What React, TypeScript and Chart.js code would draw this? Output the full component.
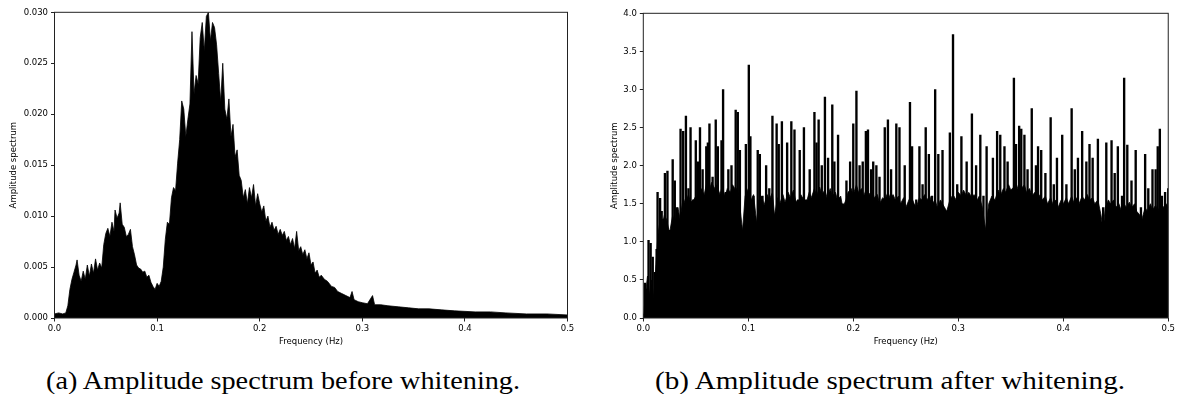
import React, { useEffect, useRef } from "react";
import { Chart, registerables } from "chart.js";

Chart.register(...registerables);

// ---------- data ----------
const xTicks = [0, 0.1, 0.2, 0.3, 0.4, 0.5];
const yTicksA = [0, 0.005, 0.01, 0.015, 0.02, 0.025, 0.03];
const yTicksB = [0, 0.5, 1, 1.5, 2, 2.5, 3, 3.5, 4];

const freqA = [
  0.0, 0.004, 0.008, 0.011, 0.013, 0.015, 0.017, 0.019, 0.021, 0.022, 0.024, 0.026, 0.028, 0.03,
  0.032, 0.034, 0.036, 0.038, 0.04, 0.042, 0.044, 0.046, 0.048, 0.05, 0.052, 0.054, 0.056, 0.058,
  0.059, 0.061, 0.063, 0.064, 0.066, 0.068, 0.07, 0.072, 0.074, 0.076, 0.078, 0.08, 0.082, 0.084,
  0.086, 0.088, 0.09, 0.092, 0.094, 0.096, 0.098, 0.1, 0.102, 0.104, 0.106, 0.108, 0.11, 0.112,
  0.114, 0.116, 0.118, 0.12, 0.122, 0.124, 0.126, 0.128, 0.13, 0.132, 0.134, 0.136, 0.138, 0.14,
  0.142, 0.144, 0.146, 0.148, 0.15, 0.152, 0.154, 0.156, 0.158, 0.16, 0.162, 0.164, 0.166, 0.168,
  0.17, 0.172, 0.174, 0.176, 0.178, 0.18, 0.182, 0.184, 0.186, 0.188, 0.19, 0.192, 0.194, 0.196,
  0.198, 0.2, 0.202, 0.204, 0.206, 0.208, 0.21, 0.212, 0.214, 0.216, 0.218, 0.22, 0.222, 0.224,
  0.226, 0.228, 0.23, 0.232, 0.234, 0.236, 0.238, 0.24, 0.242, 0.244, 0.246, 0.248, 0.25, 0.252,
  0.254, 0.256, 0.258, 0.26, 0.263, 0.266, 0.27, 0.273, 0.276, 0.28, 0.284, 0.288, 0.29, 0.292,
  0.296, 0.3, 0.305, 0.31, 0.312, 0.318, 0.325, 0.335, 0.345, 0.355, 0.365, 0.377, 0.39, 0.41,
  0.425, 0.44, 0.46, 0.48, 0.5,
];
const ampA = [
  0.0004, 0.0005, 0.0004, 0.0005, 0.0012, 0.0028, 0.0038, 0.0045, 0.0052, 0.0057, 0.0042, 0.0036,
  0.0046, 0.0038, 0.0052, 0.0041, 0.0053, 0.0044, 0.0058, 0.0047, 0.0054, 0.0049, 0.0072, 0.0083,
  0.0088, 0.008, 0.0094, 0.0085, 0.0106, 0.0098, 0.0103, 0.0113, 0.0092, 0.0089, 0.008, 0.0082,
  0.0087, 0.007, 0.0062, 0.0052, 0.0049, 0.0048, 0.0045, 0.0046, 0.004, 0.0042, 0.0035, 0.0031,
  0.0028, 0.0034, 0.0031, 0.0036, 0.005, 0.0077, 0.0094, 0.0092, 0.0118, 0.0128, 0.0125, 0.0152,
  0.0175, 0.0213, 0.0205, 0.0178, 0.0195, 0.021, 0.0281, 0.022, 0.0238, 0.023, 0.0275, 0.029,
  0.0262, 0.0296, 0.03, 0.0272, 0.029, 0.0285, 0.0268, 0.024, 0.0212, 0.025, 0.0205, 0.0195,
  0.0215, 0.0178, 0.019, 0.0158, 0.0165, 0.014, 0.0135, 0.0118, 0.0126, 0.0112, 0.0128, 0.0118,
  0.0131, 0.011, 0.0122, 0.0112, 0.0104, 0.011, 0.0095, 0.01, 0.0089, 0.0094, 0.0086, 0.009,
  0.0082, 0.0087, 0.0081, 0.0085, 0.0076, 0.008, 0.0072, 0.0078, 0.0068, 0.0085, 0.0066, 0.007,
  0.0062, 0.0067, 0.0058, 0.0064, 0.0052, 0.0055, 0.0044, 0.0047, 0.004, 0.0042, 0.0038, 0.0036,
  0.0031, 0.003, 0.0026, 0.0024, 0.0022, 0.002, 0.0026, 0.0018, 0.0016, 0.0015, 0.0014, 0.0022,
  0.0013, 0.0013, 0.0012, 0.0011, 0.001, 0.0009, 0.0009, 0.0008, 0.0007, 0.0006, 0.0006, 0.0005,
  0.0004, 0.0004, 0.0003,
];

// whitened spectrum: individual peaks
const freqB = [
  0.0, 0.0016, 0.0035, 0.005, 0.006, 0.007, 0.009, 0.0105, 0.011, 0.0127, 0.0136, 0.016, 0.0175,
  0.019, 0.0206, 0.023, 0.025, 0.028, 0.03, 0.032, 0.034, 0.0355, 0.038, 0.0406, 0.043, 0.045,
  0.0476, 0.05, 0.052, 0.054, 0.0565, 0.06, 0.0615, 0.063, 0.066, 0.069, 0.071, 0.0745, 0.076,
  0.0787, 0.081, 0.084, 0.088, 0.09, 0.092, 0.0945, 0.0977, 0.1005, 0.102, 0.105, 0.108, 0.109,
  0.111, 0.1135, 0.117, 0.12, 0.123, 0.125, 0.127, 0.129, 0.132, 0.135, 0.137, 0.141, 0.144,
  0.1475, 0.149, 0.153, 0.155, 0.1585, 0.163, 0.165, 0.167, 0.17, 0.173, 0.176, 0.18, 0.182,
  0.1855, 0.19, 0.1935, 0.197, 0.2, 0.203, 0.206, 0.209, 0.212, 0.214, 0.217, 0.219, 0.222, 0.225,
  0.23, 0.233, 0.236, 0.241, 0.244, 0.249, 0.254, 0.256, 0.26, 0.263, 0.266, 0.269, 0.272, 0.275,
  0.278, 0.281, 0.285, 0.289, 0.292, 0.295, 0.299, 0.303, 0.308, 0.313, 0.317, 0.321, 0.324,
  0.327, 0.333, 0.337, 0.34, 0.344, 0.347, 0.353, 0.355, 0.358, 0.36, 0.363, 0.366, 0.37, 0.374,
  0.376, 0.379, 0.383, 0.388, 0.391, 0.394, 0.399, 0.403, 0.408, 0.411, 0.414, 0.418, 0.422,
  0.425, 0.428, 0.433, 0.438, 0.441, 0.446, 0.449, 0.452, 0.456, 0.458, 0.461, 0.465, 0.469,
  0.474, 0.478, 0.481, 0.485, 0.488, 0.49, 0.492, 0.494, 0.497, 0.5,
];
const ampB = [
  0.05, 0.46, 0.25, 1.02, 0.3, 0.98, 0.8, 0.2, 0.6, 0.9, 1.65, 1.57, 1.4, 1.3, 1.9, 1.93, 1.15,
  2.08, 1.8, 1.45, 1.2, 2.48, 2.45, 2.65, 1.7, 2.5, 1.55, 2.33, 2.05, 2.5, 1.95, 2.25, 2.3, 2.55,
  1.85, 2.6, 2.25, 2.33, 3.0, 1.65, 1.95, 2.0, 2.73, 2.7, 2.2, 1.15, 2.28, 3.32, 2.38, 1.6, 1.25,
  2.2, 2.15, 1.6, 2.0, 1.7, 2.65, 1.35, 2.55, 2.28, 2.58, 1.45, 2.3, 2.58, 2.47, 1.55, 2.2, 2.5,
  1.55, 1.95, 2.7, 2.3, 2.6, 2.0, 2.9, 2.1, 2.8, 2.05, 2.4, 1.5, 1.8, 2.05, 2.55, 2.98, 2.0, 2.05,
  2.45, 2.47, 1.95, 2.05, 2.0, 1.85, 2.5, 2.6, 1.95, 2.55, 2.5, 2.0, 2.83, 2.25, 1.55, 2.25, 1.75,
  2.5, 2.15, 1.6, 3.0, 2.15, 2.2, 1.4, 2.43, 3.72, 1.75, 2.38, 2.05, 2.68, 2.0, 2.4, 1.6, 2.25,
  2.1, 2.45, 2.4, 2.25, 2.05, 3.15, 2.28, 2.52, 2.48, 2.4, 1.95, 2.75, 2.0, 2.25, 2.2, 1.9, 2.63,
  1.75, 2.1, 2.4, 1.75, 2.75, 1.95, 2.1, 2.45, 2.05, 2.28, 2.1, 2.35, 1.45, 2.3, 2.33, 1.9, 2.25,
  1.6, 3.15, 2.27, 1.8, 2.2, 1.45, 2.15, 1.7, 1.95, 1.95, 2.25, 2.48, 1.6, 1.65, 1.7,
];

// whitened spectrum: top of the solid black body under the peaks
const freqFloorB = [
  0.0, 0.002, 0.004, 0.006, 0.008, 0.01, 0.012, 0.014, 0.016, 0.018, 0.02, 0.022, 0.025, 0.028,
  0.03, 0.033, 0.035, 0.038, 0.04, 0.043, 0.045, 0.048, 0.05, 0.053, 0.055, 0.058, 0.06, 0.063,
  0.065, 0.068, 0.07, 0.073, 0.075, 0.078, 0.08, 0.083, 0.085, 0.088, 0.09, 0.0945, 0.097, 0.1,
  0.103, 0.105, 0.108, 0.11, 0.113, 0.115, 0.118, 0.12, 0.123, 0.125, 0.128, 0.13, 0.133, 0.135,
  0.138, 0.14, 0.143, 0.145, 0.148, 0.15, 0.153, 0.155, 0.158, 0.16, 0.163, 0.165, 0.168, 0.17,
  0.173, 0.175, 0.178, 0.18, 0.183, 0.185, 0.188, 0.19, 0.193, 0.195, 0.198, 0.2, 0.203, 0.205,
  0.208, 0.21, 0.213, 0.215, 0.218, 0.22, 0.223, 0.225, 0.228, 0.23, 0.233, 0.235, 0.238, 0.24,
  0.243, 0.245, 0.248, 0.25, 0.253, 0.255, 0.258, 0.26, 0.263, 0.265, 0.268, 0.27, 0.273, 0.275,
  0.278, 0.28, 0.283, 0.285, 0.289, 0.292, 0.295, 0.298, 0.3, 0.303, 0.305, 0.308, 0.31, 0.313,
  0.315, 0.318, 0.32, 0.323, 0.326, 0.329, 0.332, 0.335, 0.338, 0.34, 0.343, 0.345, 0.348, 0.35,
  0.353, 0.355, 0.358, 0.36, 0.363, 0.365, 0.368, 0.37, 0.373, 0.375, 0.378, 0.38, 0.383, 0.385,
  0.388, 0.39, 0.393, 0.395, 0.398, 0.4, 0.403, 0.405, 0.408, 0.41, 0.413, 0.415, 0.418, 0.42,
  0.423, 0.425, 0.428, 0.43, 0.433, 0.436, 0.438, 0.44, 0.443, 0.445, 0.448, 0.45, 0.453, 0.455,
  0.458, 0.46, 0.463, 0.465, 0.468, 0.47, 0.473, 0.475, 0.478, 0.48, 0.483, 0.485, 0.488, 0.49,
  0.493, 0.495, 0.498, 0.5,
];
const floorB = [
  0.0, 0.3, 0.55, 0.3, 0.5, 0.25, 0.7, 1.1, 1.28, 1.2, 1.35, 1.3, 1.12, 1.35, 1.25, 1.45, 1.3,
  1.58, 1.5, 1.62, 1.52, 1.55, 1.6, 1.5, 1.7, 1.62, 1.75, 1.68, 1.78, 1.7, 1.75, 1.62, 1.72, 1.6,
  1.7, 1.65, 1.75, 1.68, 1.72, 1.15, 1.6, 1.7, 1.55, 1.62, 1.25, 1.55, 1.6, 1.48, 1.62, 1.55,
  1.65, 1.35, 1.58, 1.5, 1.62, 1.52, 1.65, 1.58, 1.68, 1.55, 1.5, 1.62, 1.55, 1.5, 1.65, 1.58,
  1.7, 1.6, 1.72, 1.62, 1.68, 1.58, 1.7, 1.6, 1.65, 1.55, 1.6, 1.45, 1.55, 1.65, 1.7, 1.62, 1.75,
  1.65, 1.7, 1.6, 1.72, 1.62, 1.68, 1.58, 1.62, 1.5, 1.58, 1.55, 1.65, 1.58, 1.62, 1.55, 1.6,
  1.5, 1.58, 1.45, 1.55, 1.6, 1.5, 1.45, 1.58, 1.55, 1.62, 1.55, 1.6, 1.5, 1.55, 1.45, 1.55,
  1.5, 1.4, 1.55, 1.62, 1.55, 1.65, 1.6, 1.68, 1.6, 1.65, 1.58, 1.62, 1.55, 1.6, 1.45, 1.16,
  1.5, 1.6, 1.55, 1.68, 1.6, 1.7, 1.65, 1.75, 1.68, 1.72, 1.65, 1.78, 1.7, 1.75, 1.65, 1.7, 1.6,
  1.65, 1.55, 1.62, 1.55, 1.6, 1.5, 1.58, 1.5, 1.55, 1.45, 1.55, 1.5, 1.58, 1.5, 1.6, 1.52,
  1.58, 1.5, 1.6, 1.55, 1.62, 1.55, 1.58, 1.5, 1.55, 1.35, 1.15, 1.45, 1.55, 1.5, 1.55, 1.45,
  1.5, 1.42, 1.5, 1.45, 1.52, 1.45, 1.5, 1.4, 1.35, 1.3, 1.45, 1.4, 1.5, 1.42, 1.48, 1.4, 1.5,
  1.45, 1.5, 1.45,
];

const captionA = "(a) Amplitude spectrum before whitening.";
const captionB = "(b) Amplitude spectrum after whitening.";

// ---------- helpers ----------
const frame = {
  id: "frame",
  afterDraw(chart: any) {
    const { ctx, chartArea: a } = chart;
    ctx.save();
    ctx.strokeStyle = "#222";
    ctx.lineWidth = 1;
    ctx.strokeRect(a.left, a.top, a.right - a.left, a.bottom - a.top);
    ctx.restore();
  },
};

const tickFont = { family: "'DejaVu Sans'", size: 8.5 };

const pts = (fx: number[], fy: number[]) => fx.map((f, i) => ({ x: f, y: fy[i] }));

function makeOptions(
  yMax: number,
  yTicks: number[],
  decimals: number,
  yWidth: number,
  padTop: number,
  padRight: number,
  xHeight: number,
  yTitlePad: number
): any {
  return {
    animation: false,
    responsive: false,
    maintainAspectRatio: false,
    layout: { padding: { top: padTop, right: padRight, left: 0, bottom: 0 } },
    plugins: { legend: { display: false }, tooltip: { enabled: false } },
    scales: {
      x: {
        type: "linear",
        min: 0,
        max: 0.5,
        offset: false,
        afterBuildTicks: (s: any) => {
          s.ticks = xTicks.map((v) => ({ value: v }));
        },
        afterFit: (s: any) => {
          s.height = xHeight;
        },
        ticks: {
          color: "#000",
          font: tickFont,
          padding: 2,
          maxRotation: 0,
          callback: (v: number) => v.toFixed(1),
        },
        grid: { offset: false, drawOnChartArea: false, drawTicks: true, tickLength: 3.5, color: "#222" },
        border: { display: false },
        title: {
          display: true,
          text: "Frequency (Hz)",
          color: "#000",
          font: tickFont,
          padding: { top: 0, bottom: 5 },
        },
      },
      y: {
        type: "linear",
        min: 0,
        max: yMax,
        afterBuildTicks: (s: any) => {
          s.ticks = yTicks.map((v) => ({ value: v }));
        },
        afterFit: (s: any) => {
          s.width = yWidth;
        },
        ticks: {
          color: "#000",
          font: tickFont,
          padding: 3,
          callback: (v: number) => v.toFixed(decimals),
        },
        grid: { drawOnChartArea: false, drawTicks: true, tickLength: 3.5, color: "#222" },
        border: { display: false },
        title: {
          display: true,
          text: "Amplitude spectrum",
          color: "#000",
          font: tickFont,
          padding: { top: yTitlePad, bottom: 0 },
        },
      },
    },
  };
}

const lineFill = (data: any[]) => ({
  type: "line",
  data,
  borderColor: "#000",
  backgroundColor: "#000",
  borderWidth: 0.8,
  pointRadius: 0,
  tension: 0,
  fill: "origin",
});

const configA: any = {
  type: "line",
  data: { datasets: [lineFill(pts(freqA, ampA))] },
  options: makeOptions(0.03, yTicksA, 3, 54.5, 12.3, 12.5, 34, 9),
  plugins: [frame],
};

const configB: any = {
  type: "line",
  data: {
    datasets: [
      lineFill(pts(freqFloorB, floorB)),
      {
        type: "bar",
        data: pts(freqB, ampB),
        backgroundColor: "#000",
        borderWidth: 0,
        barThickness: 1.7,
        grouped: false,
      },
    ],
  },
  options: makeOptions(4.0, yTicksB, 1, 53.3, 13.3, 8, 34, 20),
  plugins: [frame],
};

function Panel(props: { left: number; width: number; height: number; config: any }) {
  const ref = useRef<HTMLCanvasElement | null>(null);
  useEffect(() => {
    if (!ref.current) return;
    const chart = new Chart(ref.current, props.config);
    return () => chart.destroy();
  }, []);
  return (
    <div style={{ position: "absolute", left: props.left, top: 0, width: props.width, height: props.height }}>
      <canvas ref={ref} width={props.width} height={props.height} style={{ width: props.width, height: props.height }} />
    </div>
  );
}

function Caption(props: { left: number; targetWidth: number; text: string }) {
  const ref = useRef<HTMLSpanElement | null>(null);
  useEffect(() => {
    const el = ref.current;
    if (!el) return;
    el.style.transform = "none";
    const w = el.getBoundingClientRect().width;
    if (w > 0) el.style.transform = `scaleX(${props.targetWidth / w})`;
  }, []);
  return (
    <span
      ref={ref}
      style={{
        position: "absolute",
        left: props.left,
        top: 368,
        fontFamily: "'Liberation Serif', serif",
        fontSize: 25,
        lineHeight: "25px",
        whiteSpace: "nowrap",
        transformOrigin: "left top",
        color: "#000",
      }}
    >
      {props.text}
    </span>
  );
}

export default function App() {
  return (
    <div style={{ position: "absolute", left: 0, top: 0, width: 1177, height: 394, background: "#fff", overflow: "hidden" }}>
      <Panel left={0} width={580} height={352} config={configA} />
      <Panel left={590} width={587} height={352} config={configB} />
      <Caption left={46} targetWidth={474} text={captionA} />
      <Caption left={655} targetWidth={470} text={captionB} />
    </div>
  );
}
